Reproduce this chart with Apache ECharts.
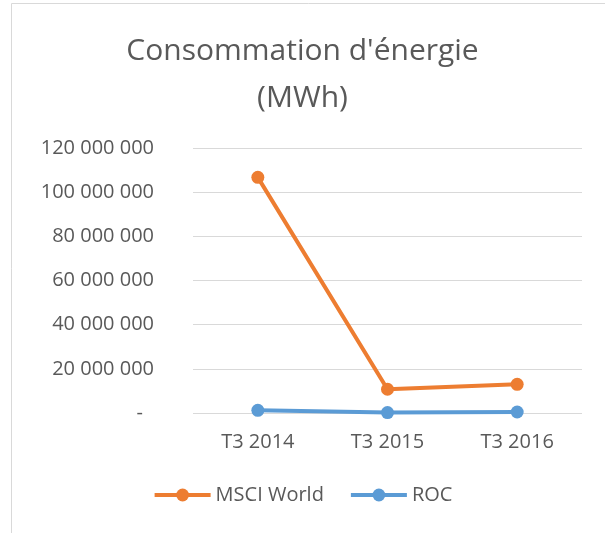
<!DOCTYPE html>
<html>
<head>
<meta charset="utf-8">
<script src="https://cdn.jsdelivr.net/npm/echarts@6/dist/echarts.min.js"></script>
<style>
  html, body { margin: 0; padding: 0; background: #fff; }
  #chart { width: 605px; height: 533px; }
</style>
</head>
<body>
<div id="chart"></div>
<script>
var categories = ['T3 2014', 'T3 2015', 'T3 2016']
var msciWorld = [106700000, 10750000, 13000000]
var roc = [1200000, 200000, 450000]
var yTicks = [0, 20000000, 40000000, 60000000, 80000000, 100000000, 120000000]

var chart = echarts.init(document.getElementById('chart'))
var font = 'Open Sans, Noto Sans, sans-serif'

function fmt(v) {
  if (v === 0) return '{d|-}'
  return String(v).replace(/\B(?=(\d{3})+(?!\d))/g, ' ')
}

chart.setOption({
  animation: false,
  textStyle: { fontFamily: font },
  title: {
    text: "Consommation d'énergie\n(MWh)",
    left: 'center',
    top: 23,
    textStyle: { color: '#595959', fontSize: 30, fontWeight: 'normal', lineHeight: 47, fontFamily: font }
  },
  graphic: [{
    type: 'rect',
    shape: { x: 11.5, y: 3.5, width: 620, height: 560 },
    style: { fill: 'none', stroke: '#D9D9D9', lineWidth: 1 },
    silent: true
  }],
  grid: { left: 193, right: 23, top: 148, bottom: 120 },
  legend: {
    bottom: 23,
    left: 'center',
    itemWidth: 56,
    itemHeight: 16,
    itemGap: 25,
    lineStyle: { width: 4 },
    textStyle: { color: '#595959', fontSize: 20, fontFamily: font }
  },
  xAxis: {
    type: 'category',
    data: categories,
    boundaryGap: true,
    axisLine: { show: false },
    axisTick: { show: false },
    axisLabel: { color: '#595959', fontSize: 20, margin: 19 }
  },
  yAxis: {
    type: 'value',
    min: yTicks[0],
    max: yTicks[yTicks.length - 1],
    interval: 20000000,
    axisLine: { show: false },
    axisTick: { show: false },
    splitLine: { lineStyle: { color: '#D9D9D9', width: 1 } },
    axisLabel: {
      color: '#595959',
      fontSize: 20,
      margin: 39,
      formatter: fmt,
      rich: { d: { color: '#595959', fontSize: 20, padding: [0, 11, 0, 0] } }
    }
  },
  series: [{
    name: 'MSCI World',
    type: 'line',
    data: msciWorld,
    symbol: 'circle',
    symbolSize: 13,
    itemStyle: { color: '#ED7D31' },
    lineStyle: { color: '#ED7D31', width: 4 }
  }, {
    name: 'ROC',
    type: 'line',
    data: roc,
    symbol: 'circle',
    symbolSize: 13,
    itemStyle: { color: '#5B9BD5' },
    lineStyle: { color: '#5B9BD5', width: 4 }
  }]
})
</script>
</body>
</html>
